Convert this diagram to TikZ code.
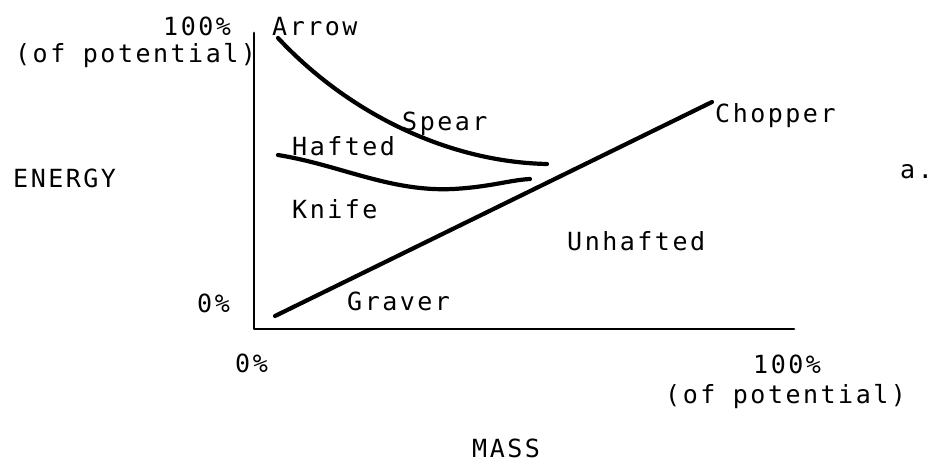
\documentclass[tikz,border=0pt]{standalone}
\usepackage{fontspec}
\newfontfamily\typew[LetterSpace=10]{DejaVu Sans Mono}
\begin{document}
\begin{tikzpicture}[x=1pt,y=-1pt,
  lbl/.style={inner sep=0pt,anchor=base west,font=\typew\fontsize{25}{27}\selectfont},
  axis/.style={line width=2.8pt,line cap=round,line join=round},
  curve/.style={line width=4.2pt,line cap=round}]
\useasboundingbox (0,0) rectangle (931,466);
\draw[axis] (254,33) -- (254,329) -- (794,329);
\draw[curve] (278,38) .. controls (350,115) and (450,162) .. (547,164);
\draw[curve] (278,155) .. controls (340,165) and (390,192) .. (453,189) .. controls (490,187) and (510,180) .. (530,179);
\coordinate (gs) at (275,316);
\coordinate (ce) at (712,102);
\draw[curve] (gs) -- (ce);
\node[lbl] (ytop) at (163,35) {100\%};
\node[lbl] (ypot) at (15,62) {(of potential)};
\node[lbl] (arrow) at (272,35) {Arrow};
\node[lbl] (spear) at (402,130) {Spear};
\node[lbl] (hafted) at (292,155) {Hafted};
\node[lbl] (knife) at (292,218) {Knife};
\node[lbl] (graver) at (347,310) {Graver};
\node[lbl] (unhafted) at (567,250) {Unhafted};
\node[lbl] (chopper) at (715,122) {Chopper};
\node[lbl] (a) at (900,178) {a.};
\node[lbl] (energy) at (13,187) {ENERGY};
\node[lbl] (yzero) at (197,312) {0\%};
\node[lbl] (xzero) at (235,372) {0\%};
\node[lbl] (xtop) at (753,373) {100\%};
\node[lbl] (xpot) at (665,403) {(of potential)};
\node[lbl] (mass) at (472,457) {MASS};
\end{tikzpicture}
\end{document}
